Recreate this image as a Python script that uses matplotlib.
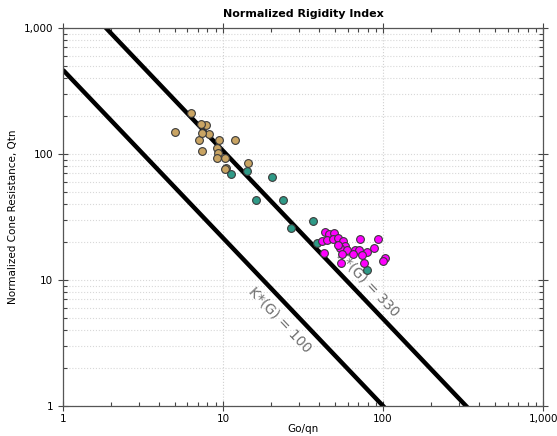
import numpy as np
import matplotlib.pyplot as plt
from matplotlib.ticker import FixedLocator, NullFormatter, LogLocator

# Go/qn and Qtn for each soil group
tan_go = [6.28, 5.01, 7.80, 7.29, 8.21, 7.11, 7.36, 9.48, 11.9, 7.36, 9.14, 9.35,
          9.14, 10.3, 10.5, 10.3, 14.4]
tan_qtn = [213, 150, 170, 173, 143, 129, 146, 129, 128, 106, 111, 101,
           92.5, 92.5, 77, 75.6, 84.4]

teal_go = [14.1, 11.3, 20.2, 16.1, 23.8, 26.5, 36.4, 38.8, 79.8]
teal_qtn = [73.3, 69, 65.3, 43.2, 43.2, 26.0, 29.4, 19.6, 12.0]

mag_go = [43.4, 46.2, 49.6, 41.4, 44.9, 48.9, 52.6, 56.0, 57.9, 53.8, 59.3, 71.8,
          93.5, 88.3, 66.8, 71.1, 79.1, 65.2, 73.6, 55.2, 43.0, 54.4, 76.1, 103,
          100.4, 52.6]
mag_qtn = [24.2, 23.1, 23.5, 20.5, 20.8, 21.1, 21.7, 20.5, 18.7, 17.9, 17.3, 21.1,
           21.1, 18.0, 17.3, 17.3, 16.6, 16.1, 15.8, 16.1, 16.3, 13.6, 13.6, 14.9,
           14.2, 19.0]

# K*(G) boundaries: K = (Go/qn) * Qtn^0.75
k_values = [100, 330]
k_labels = ["K*(G) = 100", "K*(G) = 330"]
label_pos = [(22.7, 4.8), (80.5, 9.3)]

plt.rcParams['font.family'] = 'DejaVu Sans'

fig = plt.figure(figsize=(5.57, 4.36), dpi=100)
ax = fig.add_axes([0.113, 0.069, 0.862, 0.867])
ax.set_xscale('log')
ax.set_yscale('log')
ax.set_xlim(1, 1000)
ax.set_ylim(1, 1000)

# grid: horizontal at major+minor, vertical at major only
ax.yaxis.grid(True, which='both', color='#d8d8d8', linestyle=':', linewidth=0.8)
ax.xaxis.grid(True, which='major', color='#d0d0d0', linestyle=':', linewidth=0.8)
ax.set_axisbelow(True)

xs = np.logspace(0, 3, 400)
for k in k_values:
    ax.plot(xs, (k / xs) ** (4.0 / 3.0), color='black', linewidth=3.2, zorder=2,
            solid_capstyle='butt')

for (lx, ly), txt in zip(label_pos, k_labels):
    ax.text(lx, ly, txt, rotation=-46.5, rotation_mode='anchor', ha='center',
            va='center', fontsize=10, color='#6e6e6e', zorder=2.5)

mk = dict(marker='o', linestyle='none', markersize=5.6, markeredgecolor='#3a3a3a',
          markeredgewidth=0.8, zorder=3)
ax.plot(tan_go, tan_qtn, markerfacecolor='#c9a463', **mk)
ax.plot(teal_go, teal_qtn, markerfacecolor='#2f9a87', **mk)
ax.plot(mag_go, mag_qtn, markerfacecolor='#ff00ff', **mk)

major = [1, 10, 100, 1000]
tick_labels = ['1', '10', '100', '1,000']
for axis in (ax.xaxis, ax.yaxis):
    axis.set_major_locator(FixedLocator(major))
    axis.set_minor_locator(LogLocator(base=10, subs=np.arange(2, 10)))
    axis.set_minor_formatter(NullFormatter())
ax.set_xticklabels(tick_labels)
ax.set_yticklabels(tick_labels)

ax.tick_params(which='major', direction='inout', length=7, width=0.8,
               colors='#444444', labelcolor='black', labelsize=7.5,
               top=True, right=True)
ax.tick_params(axis='x', which='major', pad=2)
ax.tick_params(which='minor', direction='in', length=3, width=0.8,
               colors='#444444', top=True, right=True)
for s in ax.spines.values():
    s.set_color('#555555')
    s.set_linewidth(0.9)

ax.set_title("Normalized Rigidity Index", fontsize=8, fontweight='bold', pad=8)
ax.set_xlabel("Go/qn", fontsize=7.5, labelpad=0)
ax.set_ylabel("Normalized Cone Resistance, Qtn", fontsize=7.5, labelpad=4)

fig.savefig("out.png", dpi=100)
